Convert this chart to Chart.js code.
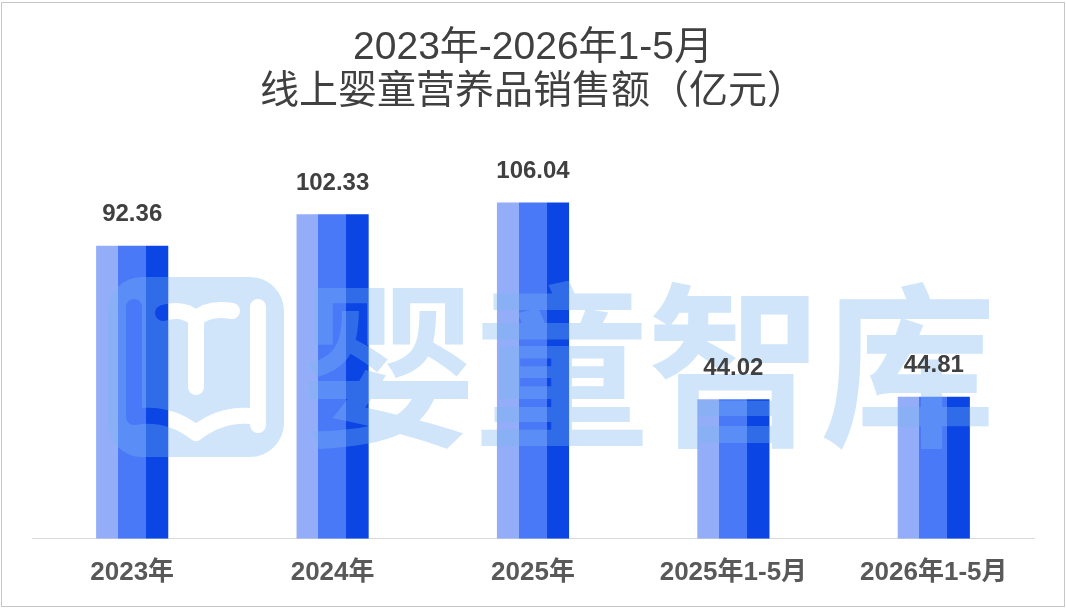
<!DOCTYPE html>
<html lang="zh-CN">
<head>
  <meta charset="UTF-8" />
  <title>线上婴童营养品销售额</title>
  <script src="https://cdn.jsdelivr.net/npm/chart.js"></script>
  <style>
    html, body {
      margin: 0;
      padding: 0;
      background: #fff;
      overflow: hidden;
    }
    .wrap {
      position: relative;
      width: 1066px;
      height: 609px;
    }
    .frame {
      position: absolute;
      left: 1px;
      top: 2px;
      width: 1062px;
      height: 603px;
      border: 1px solid #c6c6c6;
      pointer-events: none;
    }
  </style>
</head>
<body>
  <div class="wrap">
    <canvas id="salesChart"></canvas>
    <div class="frame"></div>
  </div>

  <script>
    const titleLines = ["2023年-2026年1-5月", "线上婴童营养品销售额（亿元）"];
    const categories = ["2023年", "2024年", "2025年", "2025年1-5月", "2026年1-5月"];
    const sales = [92.36, 102.33, 106.04, 44.02, 44.81];
    const watermarkText = ["婴", "童", "智", "库"];

    const CJK = "'Liberation Sans', 'Noto Sans CJK SC', sans-serif";

    // three vertical bands across each bar
    function barFill(ctx) {
      const chart = ctx.chart;
      if (!chart.chartArea) return "#4a79f7";
      const xs = chart.scales.x;
      const cx = xs.getPixelForValue(ctx.dataIndex);
      const half = 36;
      const g = chart.ctx.createLinearGradient(cx - half, 0, cx + half, 0);
      g.addColorStop(0, "#93adf8");
      g.addColorStop(0.3, "#93adf8");
      g.addColorStop(0.3, "#4a79f7");
      g.addColorStop(0.69, "#4a79f7");
      g.addColorStop(0.69, "#0b45e4");
      g.addColorStop(1, "#0b45e4");
      return g;
    }

    // 水印 + 数据标签
    const overlay = {
      id: "overlay",
      afterDatasetsDraw(chart) {
        const c = chart.ctx;
        const tint = "rgba(120, 180, 240, 0.35)";

        // logo
        const off = document.createElement("canvas");
        off.width = 180; off.height = 182;
        const o = off.getContext("2d");
        o.fillStyle = "#000";
        o.beginPath();
        o.roundRect(0, 0, 176, 180, 34);
        o.fill();
        o.globalCompositeOperation = "destination-out";
        o.lineWidth = 16;
        o.lineCap = "round";
        o.lineJoin = "round";
        o.beginPath();
        o.moveTo(26, 30); o.lineTo(26, 140);
        o.moveTo(150, 30); o.lineTo(150, 148);
        o.moveTo(26, 140); o.quadraticCurveTo(60, 134, 88, 156); o.quadraticCurveTo(116, 134, 150, 140);
        o.moveTo(55, 36); o.quadraticCurveTo(76, 30, 88, 42); o.quadraticCurveTo(100, 30, 124, 34);
        o.moveTo(88, 44); o.lineTo(88, 110);
        o.stroke();
        o.globalCompositeOperation = "source-in";
        o.fillStyle = tint;
        o.fillRect(0, 0, off.width, off.height);
        c.drawImage(off, 108, 277);

        c.save();
        c.fillStyle = tint;
        c.font = "bold 176px 'Noto Sans CJK SC', sans-serif";
        c.textAlign = "center";
        c.textBaseline = "middle";
        const centers = [389, 562, 735, 908];
        watermarkText.forEach((t, i) => c.fillText(t, centers[i], 366));
        c.restore();

        // 数值标签
        const meta = chart.getDatasetMeta(0);
        c.save();
        c.fillStyle = "#404040";
        c.font = "bold 24px " + CJK;
        c.textAlign = "center";
        c.textBaseline = "middle";
        meta.data.forEach((bar, i) => {
          c.fillText(sales[i].toFixed(2), bar.x, bar.y - 31);
        });
        c.restore();
      }
    };

    new Chart(document.getElementById("salesChart"), {
      type: "bar",
      data: {
        labels: categories,
        datasets: [{
          label: "销售额",
          data: sales,
          backgroundColor: barFill,
          borderWidth: 0,
          barPercentage: 1,
          categoryPercentage: 0.36
        }]
      },
      options: {
        responsive: true,
        maintainAspectRatio: false,
        animation: false,
        layout: {
          padding: { left: 32, right: 32, top: 0, bottom: 3 }
        },
        plugins: {
          legend: { display: false },
          tooltip: { enabled: false },
          title: {
            display: true,
            text: titleLines,
            color: "#404040",
            font: { family: CJK, size: 39, weight: "normal", lineHeight: 1.13 },
            padding: { top: 26, bottom: 44 }
          }
        },
        scales: {
          x: {
            grid: { display: false, drawTicks: false },
            border: { display: true, color: "#d9d9d9", width: 1 },
            ticks: {
              color: "#595959",
              font: { family: CJK, size: 26, weight: "bold", lineHeight: 1.2 },
              padding: 18,
              autoSkip: false,
              maxRotation: 0
            }
          },
          y: {
            display: false,
            min: 0,
            max: 120
          }
        }
      },
      plugins: [overlay]
    });
  </script>
</body>
</html>
